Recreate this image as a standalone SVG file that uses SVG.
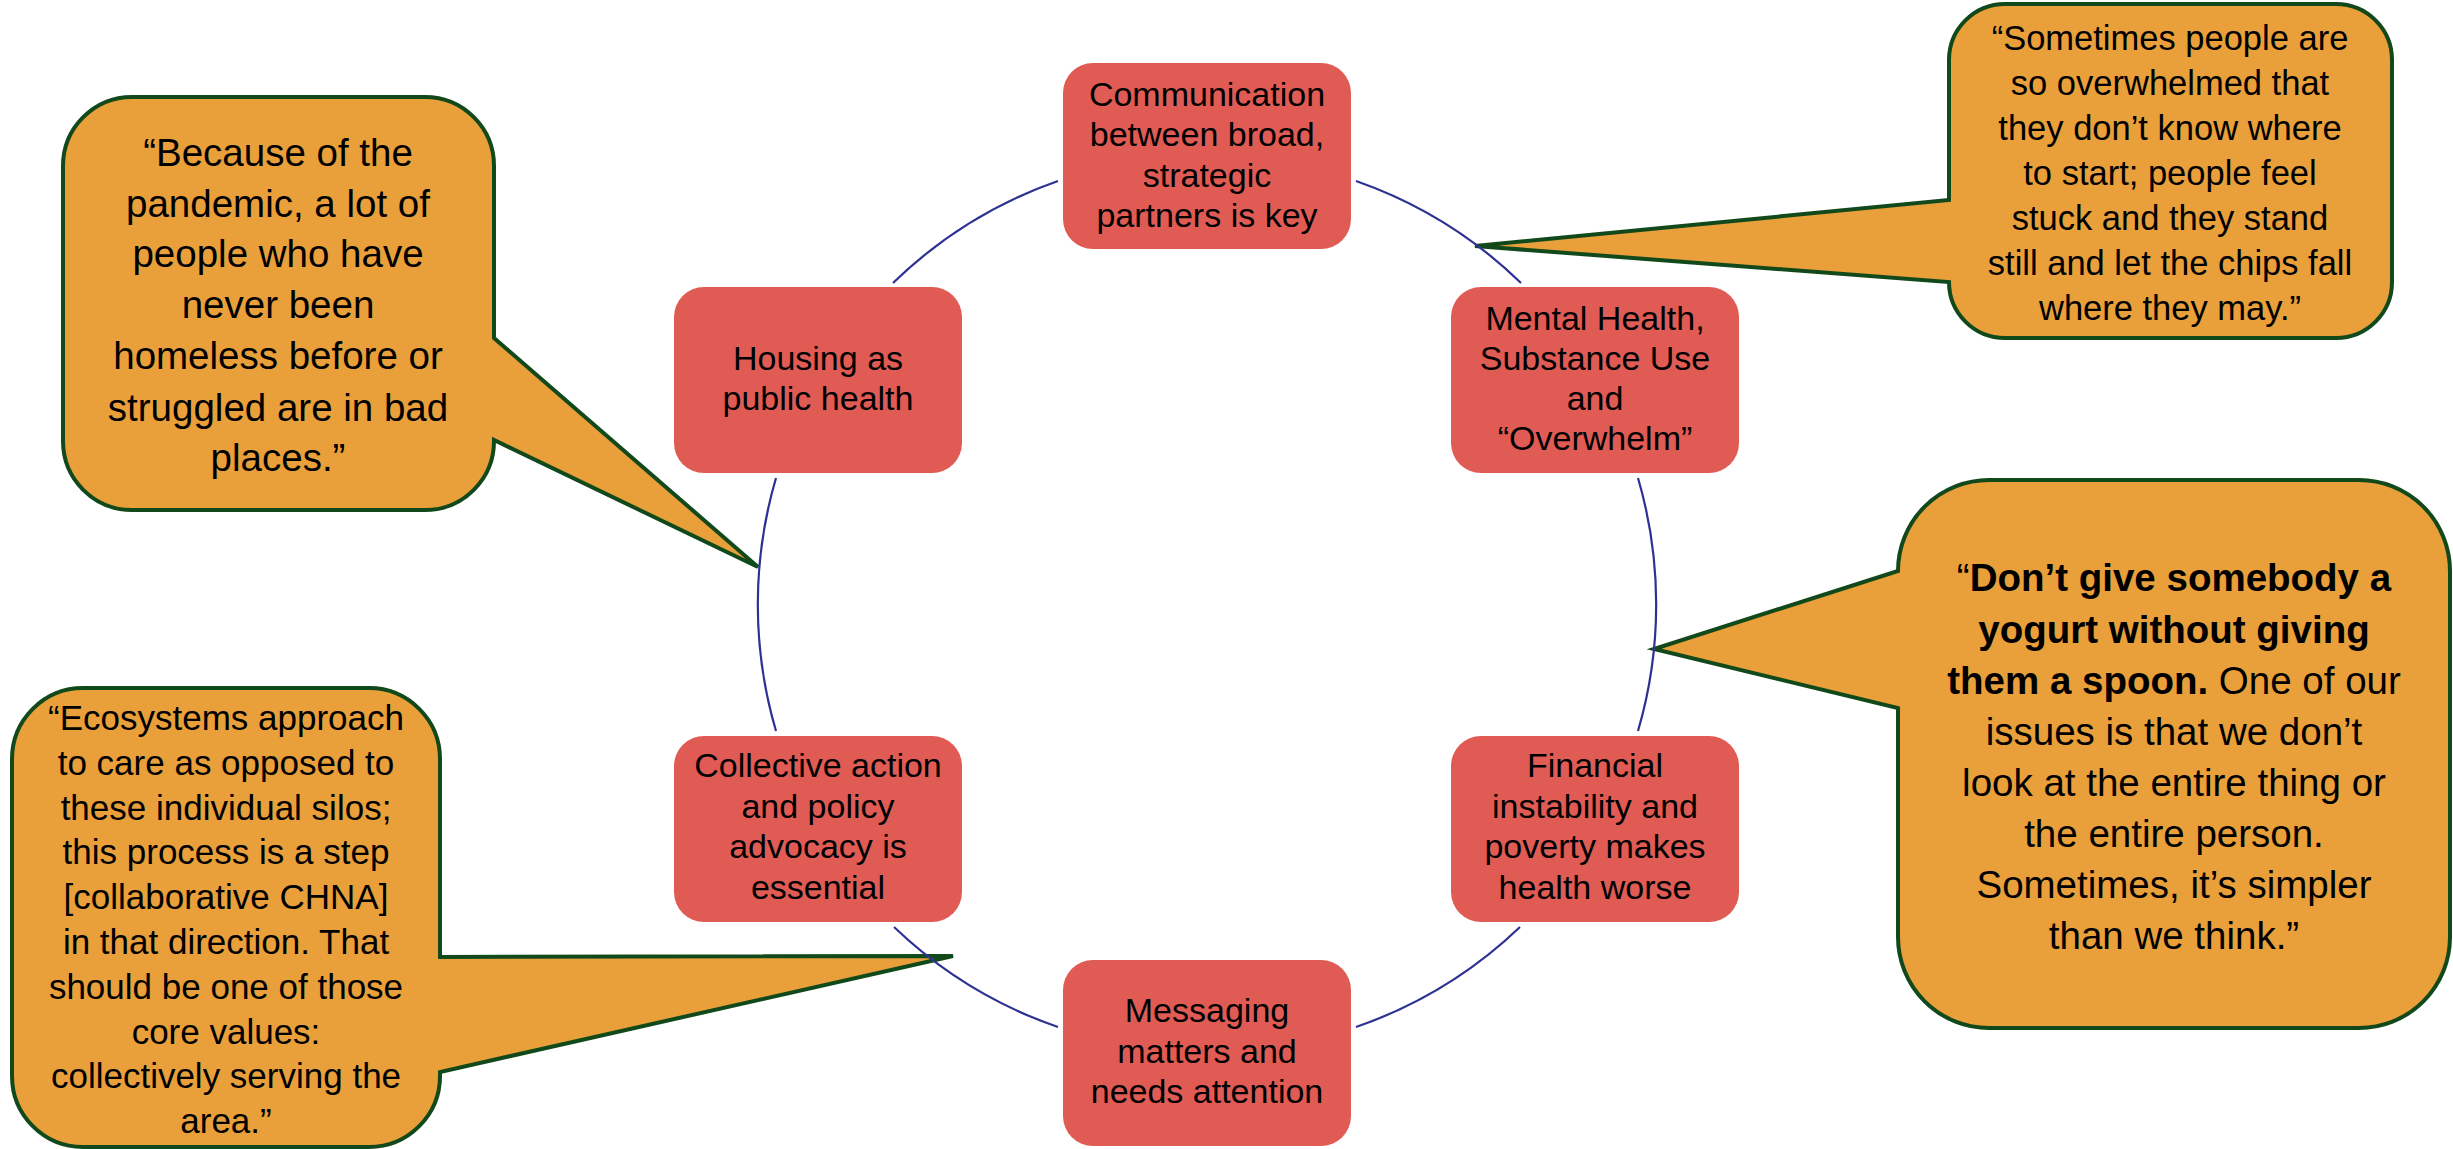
<svg xmlns="http://www.w3.org/2000/svg" width="2453" height="1149" viewBox="0 0 2453 1149">
<style>
.node rect{fill:#E15B55;}
.node text{font-family:"Liberation Sans",Arial,sans-serif;font-size:34px;fill:#000;text-anchor:middle;}
.callout path{fill:#E99F3A;stroke:#12491B;stroke-width:4;stroke-linejoin:miter;}
.callout text{font-family:"Liberation Sans",Arial,sans-serif;fill:#000;text-anchor:middle;}
.conn path{fill:none;stroke:#2E3192;stroke-width:2.2;}
.b{font-weight:bold;}
</style>
<rect width="2453" height="1149" fill="#ffffff"/>

<g id="callout-pandemic" class="callout">
<path d="M132,97 H425 A69 69 0 0 1 494,166 V338 L758,567 L494,440 V441 A69 69 0 0 1 425,510 H132 A69 69 0 0 1 63,441 V166 A69 69 0 0 1 132,97 Z"/>
<text font-size="38.5" x="278"><tspan x="278" y="166">“Because of the</tspan><tspan x="278" y="217">pandemic, a lot of</tspan><tspan x="278" y="267">people who have</tspan><tspan x="278" y="318">never been</tspan><tspan x="278" y="369">homeless before or</tspan><tspan x="278" y="421">struggled are in bad</tspan><tspan x="278" y="471">places.”</tspan></text>
</g>

<g id="callout-overwhelmed" class="callout">
<path d="M2005,4 H2336 A56 56 0 0 1 2392,60 V282 A56 56 0 0 1 2336,338 H2005 A56 56 0 0 1 1949,282 L1475,246 L1949,200 V60 A56 56 0 0 1 2005,4 Z"/>
<text font-size="34.5"><tspan x="2170" y="50">“Sometimes people are</tspan><tspan x="2170" y="95">so overwhelmed that</tspan><tspan x="2170" y="140">they don’t know where</tspan><tspan x="2170" y="185">to start; people feel</tspan><tspan x="2170" y="230">stuck and they stand</tspan><tspan x="2170" y="275">still and let the chips fall</tspan><tspan x="2170" y="320">where they may.”</tspan></text>
</g>

<g id="callout-yogurt" class="callout">
<path d="M1989,480 H2359 A91 91 0 0 1 2450,571 V937 A91 91 0 0 1 2359,1028 H1989 A91 91 0 0 1 1898,937 V708 L1654,649 L1898,571 A91 91 0 0 1 1989,480 Z"/>
<text font-size="38.5"><tspan x="2174" y="591">“<tspan class="b">Don’t give somebody a</tspan></tspan><tspan x="2174" y="643" class="b">yogurt without giving</tspan><tspan x="2174" y="694"><tspan class="b">them a spoon.</tspan> One of our</tspan><tspan x="2174" y="745">issues is that we don’t</tspan><tspan x="2174" y="796">look at the entire thing or</tspan><tspan x="2174" y="847">the entire person.</tspan><tspan x="2174" y="898">Sometimes, it’s simpler</tspan><tspan x="2174" y="949">than we think.”</tspan></text>
</g>

<g id="callout-ecosystems" class="callout">
<path d="M83,688 H369 A71 71 0 0 1 440,759 V957 L953,956 L440,1072 V1076 A71 71 0 0 1 369,1147 H83 A71 71 0 0 1 12,1076 V759 A71 71 0 0 1 83,688 Z"/>
<text font-size="35"><tspan x="226" y="730">“Ecosystems approach</tspan><tspan x="226" y="775">to care as opposed to</tspan><tspan x="226" y="820">these individual silos;</tspan><tspan x="226" y="864">this process is a step</tspan><tspan x="226" y="909">[collaborative CHNA]</tspan><tspan x="226" y="954">in that direction. That</tspan><tspan x="226" y="999">should be one of those</tspan><tspan x="226" y="1044">core values:</tspan><tspan x="226" y="1088">collectively serving the</tspan><tspan x="226" y="1133">area.”</tspan></text>
</g>

<g id="connectors" class="conn">
<path d="M1356,181 A449 449 0 0 1 1521,283"/>
<path d="M1638,478 A449 449 0 0 1 1638,731"/>
<path d="M1520,927 A449 449 0 0 1 1356,1027"/>
<path d="M1058,1027 A449 449 0 0 1 894,927"/>
<path d="M776,731 A449 449 0 0 1 776,478"/>
<path d="M893,283 A449 449 0 0 1 1058,181"/>
</g>

<g id="node-communication" class="node">
<rect x="1063" y="63" width="288" height="186" rx="30"/>
<text><tspan x="1207" y="106">Communication</tspan><tspan x="1207" y="146">between broad,</tspan><tspan x="1207" y="187">strategic</tspan><tspan x="1207" y="227">partners is key</tspan></text>
</g>
<g id="node-mental-health" class="node">
<rect x="1451" y="287" width="288" height="186" rx="30"/>
<text><tspan x="1595" y="330">Mental Health,</tspan><tspan x="1595" y="370">Substance Use</tspan><tspan x="1595" y="410">and</tspan><tspan x="1595" y="450">“Overwhelm”</tspan></text>
</g>
<g id="node-financial" class="node">
<rect x="1451" y="736" width="288" height="186" rx="30"/>
<text><tspan x="1595" y="777">Financial</tspan><tspan x="1595" y="818">instability and</tspan><tspan x="1595" y="858">poverty makes</tspan><tspan x="1595" y="899">health worse</tspan></text>
</g>
<g id="node-messaging" class="node">
<rect x="1063" y="960" width="288" height="186" rx="30"/>
<text><tspan x="1207" y="1022">Messaging</tspan><tspan x="1207" y="1063">matters and</tspan><tspan x="1207" y="1103">needs attention</tspan></text>
</g>
<g id="node-collective" class="node">
<rect x="674" y="736" width="288" height="186" rx="30"/>
<text><tspan x="818" y="777">Collective action</tspan><tspan x="818" y="818">and policy</tspan><tspan x="818" y="858">advocacy is</tspan><tspan x="818" y="899">essential</tspan></text>
</g>
<g id="node-housing" class="node">
<rect x="674" y="287" width="288" height="186" rx="30"/>
<text><tspan x="818" y="370">Housing as</tspan><tspan x="818" y="410">public health</tspan></text>
</g>
</svg>
